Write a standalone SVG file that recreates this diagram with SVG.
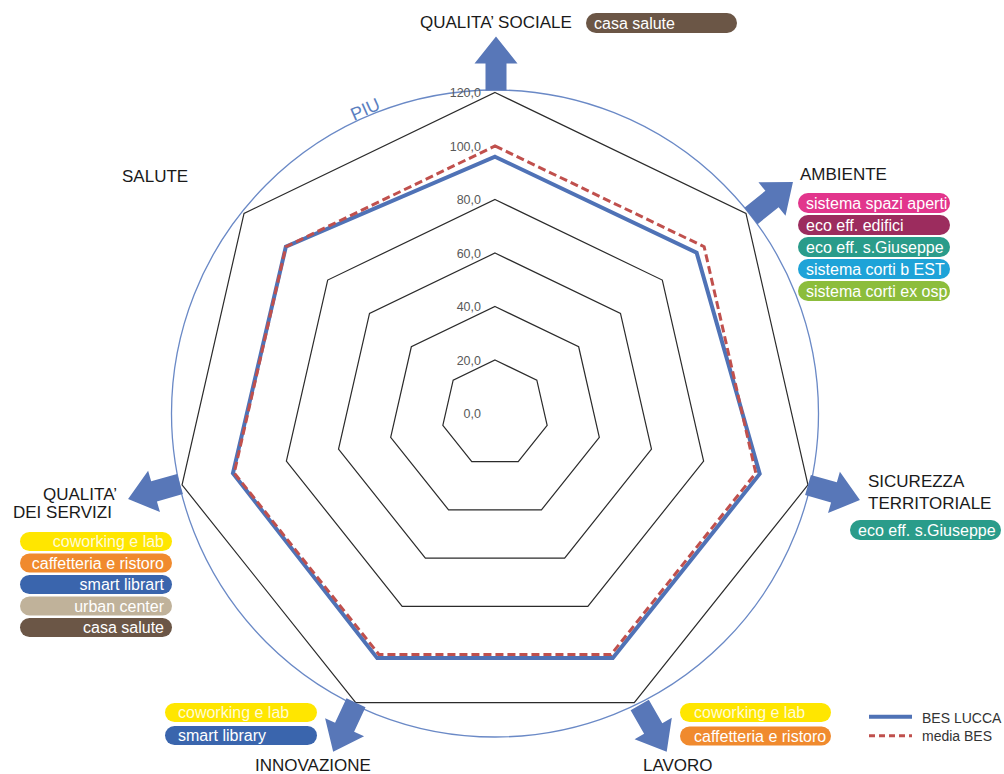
<svg xmlns="http://www.w3.org/2000/svg" xmlns:xlink="http://www.w3.org/1999/xlink" width="1004" height="774" viewBox="0 0 1004 774">
<style>
.ring{fill:none;stroke:#2b2b2b;stroke-width:1.2;stroke-linejoin:miter}
.axl{font-family:"Liberation Sans",Arial,sans-serif;font-size:12.5px;fill:#595959;text-anchor:end}
.head{font-family:"Liberation Sans",Arial,sans-serif;font-size:17px;fill:#1a1a1a}
.pt{font-family:"Liberation Sans",Arial,sans-serif;font-size:16px;fill:#ffffff}
.leg{font-family:"Liberation Sans",Arial,sans-serif;font-size:14px;fill:#333}
.arr{fill:#5877b8}
</style>
<defs>
<path id="arrow" d="M -10.5,0 L -10.5,-27 L -21.5,-27 L 0,-54 L 21.5,-27 L 10.5,-27 L 10.5,0 Z"/>
</defs>
<rect width="1004" height="774" fill="#ffffff"/>

<g id="grid">
<polygon class="ring" points="495,360 536.83,380.14 547.16,425.40 518.21,461.70 471.79,461.70 442.84,425.40 453.17,380.14"/>
<polygon class="ring" points="495,306.5 578.66,346.79 599.32,437.31 541.43,509.90 448.57,509.90 390.68,437.31 411.34,346.79"/>
<polygon class="ring" points="495,253 620.48,313.43 651.48,449.21 564.64,558.11 425.36,558.11 338.52,449.21 369.52,313.43"/>
<polygon class="ring" points="495,199.5 662.31,280.07 703.63,461.12 587.85,606.31 402.15,606.31 286.37,461.12 327.69,280.07"/>
<polygon class="ring" points="495,92.5 745.97,213.36 807.95,484.93 634.28,702.71 355.72,702.71 182.05,484.93 244.03,213.36"/>
<circle cx="495" cy="413.5" r="323.5" fill="none" stroke="#6a89c6" stroke-width="1.3"/>
<text x="354" y="121" transform="rotate(-24 354 121)" font-family="Liberation Sans, Arial, sans-serif" font-size="18" fill="#5b7fc0">PIU</text>
</g>

<g id="axis-labels">
<text class="axl" x="481" y="418">0,0</text>
<text class="axl" x="481" y="364.5">20,0</text>
<text class="axl" x="481" y="311">40,0</text>
<text class="axl" x="481" y="257.5">60,0</text>
<text class="axl" x="481" y="204">80,0</text>
<text class="axl" x="481" y="150.5">100,0</text>
<text class="axl" x="481" y="97">120,0</text>
</g>

<g id="series">
<polygon id="bes-lucca" points="495,156.7 696.63,252.70 759.69,473.91 612.80,658.11 377.20,658.11 232.94,473.31 285.86,246.72" fill="none" stroke="#4f72b6" stroke-width="4" stroke-linejoin="miter"/>
<polygon id="media-bes" points="495,146 704.14,246.72 755.79,473.02 611.06,654.51 378.94,654.51 234.21,473.02 285.86,246.72" fill="none" stroke="#c0504d" stroke-width="3" stroke-dasharray="8 4" stroke-linejoin="miter"/>
</g>

<g id="connectors">
<use xlink:href="#arrow" class="arr" transform="translate(496 90.5) rotate(0)"/>
<use xlink:href="#arrow" class="arr" transform="translate(751 216) rotate(51)"/>
<use xlink:href="#arrow" class="arr" transform="translate(808 485) rotate(106)"/>
<use xlink:href="#arrow" class="arr" transform="translate(639.7 705) rotate(150)"/>
<use xlink:href="#arrow" class="arr" transform="translate(356 702.8) rotate(205)"/>
<use xlink:href="#arrow" class="arr" transform="translate(180 484) rotate(254)"/>
</g>

<g id="node-qualita-sociale">
<text class="head" x="420" y="27.5">QUALITA’ SOCIALE</text>
<rect x="586" y="13" width="151" height="20" rx="10" fill="#6b5646"/>
<text class="pt" x="594" y="28.5">casa salute</text>
</g>

<g id="node-ambiente">
<text class="head" x="800" y="180">AMBIENTE</text>
<rect x="798" y="193" width="152" height="20" rx="10" fill="#e2358c"/>
<text class="pt" x="806" y="208.8">sistema spazi aperti</text>
<rect x="798" y="215" width="152" height="20" rx="10" fill="#9c2c5e"/>
<text class="pt" x="806" y="230.8">eco eff. edifici</text>
<rect x="798" y="237" width="152" height="20" rx="10" fill="#2a9c8a"/>
<text class="pt" x="806" y="252.8">eco eff. s.Giuseppe</text>
<rect x="798" y="259" width="152" height="20" rx="10" fill="#1ea3d8"/>
<text class="pt" x="806" y="274.8">sistema corti b EST</text>
<rect x="798" y="281" width="152" height="20" rx="10" fill="#8cbd3c"/>
<text class="pt" x="806" y="296.8">sistema corti ex osp</text>
</g>

<g id="node-sicurezza">
<text class="head" x="868" y="487">SICUREZZA</text>
<text class="head" x="868" y="508.5">TERRITORIALE</text>
<rect x="850" y="520" width="151" height="20" rx="10" fill="#2a9c8a"/>
<text class="pt" x="858" y="535.8">eco eff. s.Giuseppe</text>
</g>

<g id="node-lavoro">
<rect x="680" y="703" width="151" height="19" rx="9.5" fill="#ffe600"/>
<text class="pt" x="694" y="718" style="fill:#fffbd6">coworking e lab</text>
<rect x="680" y="726.5" width="151" height="19" rx="9.5" fill="#f08a2e"/>
<text class="pt" x="694" y="741.5">caffetteria e ristoro</text>
<text class="head" x="643" y="770.5">LAVORO</text>
</g>

<g id="node-innovazione">
<rect x="165" y="703" width="152" height="19" rx="9.5" fill="#ffe600"/>
<text class="pt" x="178" y="718" style="fill:#fffbd6">coworking e lab</text>
<rect x="165" y="726" width="152" height="19" rx="9.5" fill="#3a65ad"/>
<text class="pt" x="178" y="741">smart library</text>
<text class="head" x="255" y="771">INNOVAZIONE</text>
</g>

<g id="node-qualita-servizi">
<text class="head" x="43" y="500">QUALITA’</text>
<text class="head" x="13" y="518">DEI SERVIZI</text>
<rect x="20" y="532" width="152" height="19" rx="9.5" fill="#ffe600"/>
<text class="pt" x="164" y="547" text-anchor="end" style="fill:#fffbd6">coworking e lab</text>
<rect x="20" y="553.5" width="152" height="19" rx="9.5" fill="#f08a2e"/>
<text class="pt" x="164" y="568.5" text-anchor="end">caffetteria e ristoro</text>
<rect x="20" y="575" width="152" height="19" rx="9.5" fill="#3a65ad"/>
<text class="pt" x="164" y="590" text-anchor="end">smart librart</text>
<rect x="20" y="596.5" width="152" height="19" rx="9.5" fill="#c0b29a"/>
<text class="pt" x="164" y="611.5" text-anchor="end">urban center</text>
<rect x="20" y="618" width="152" height="19" rx="9.5" fill="#6b5646"/>
<text class="pt" x="164" y="633" text-anchor="end">casa salute</text>
</g>

<g id="node-salute">
<text class="head" x="122" y="181.5">SALUTE</text>
</g>

<g id="legend">
<line x1="869" y1="716.7" x2="912" y2="716.7" stroke="#4f72b6" stroke-width="4"/>
<text class="leg" x="922" y="722.5">BES LUCCA</text>
<line x1="869" y1="735.7" x2="912" y2="735.7" stroke="#c0504d" stroke-width="3" stroke-dasharray="6 4"/>
<text class="leg" x="922" y="740.5">media BES</text>
</g>
</svg>
